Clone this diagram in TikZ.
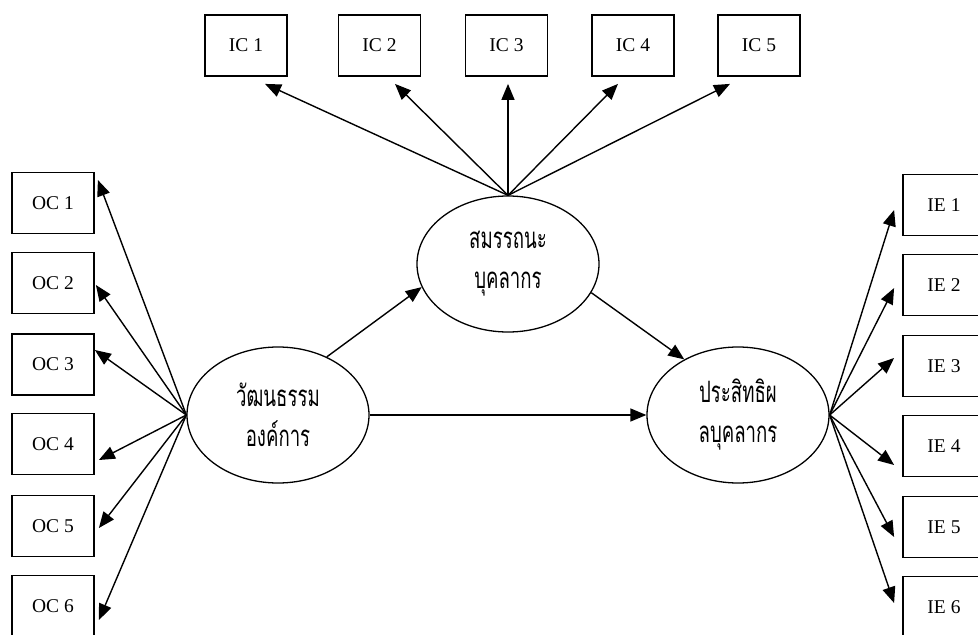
\documentclass[tikz,border=0pt]{standalone}
\usepackage{fontspec}
\usepackage{graphicx}
\setmainfont{Liberation Serif}
\newfontfamily\thaifont[Script=Thai]{Loma}
\newcommand{\tallthai}[1]{\scalebox{0.98}[1.55]{#1}}
\usetikzlibrary{arrows.meta,calc,shapes.geometric}
\begin{document}
\begin{tikzpicture}[x=1pt,y=-1pt,
  indicator/.style={draw,line width=1.8pt,minimum width=82pt,minimum height=61pt,
    inner sep=0pt,font=\fontsize{19.5}{19.5}\selectfont},
  construct/.style={draw,ellipse,line width=1.3pt,inner sep=0pt,
    minimum width=182pt,minimum height=136pt,
    align=center,font=\thaifont\fontsize{19}{40}\selectfont},
  arrowline/.style={line width=1.4pt,-{Triangle[length=16pt,width=13pt]}}]
\useasboundingbox (0,0) rectangle (978,635);

% latent constructs
\node[construct] (oc) at (278,415) {\tallthai{วัฒนธรรม}\\\tallthai{องค์การ}};
\node[construct] (ic) at (508,264) {\tallthai{สมรรถนะ}\\\tallthai{บุคลากร}};
\node[construct] (ie) at (738,415) {\tallthai{ประสิทธิผ}\\\tallthai{ลบุคลากร}};

% indicators of the left construct
\foreach \i/\y in {1/203,2/283,3/364.5,4/444,5/526,6/606}
  \node[indicator] (oc\i) at (53,\y) {OC \i};
% indicators of the top construct
\foreach \i/\x in {1/246,2/379.5,3/506.5,4/633,5/759}
  \node[indicator] (ic\i) at (\x,45.5) {IC \i};
% indicators of the right construct
\foreach \i/\y in {1/205,2/285,3/366,4/446,5/527,6/607}
  \node[indicator] (ie\i) at (944,\y) {IE \i};

% loadings
\foreach \i/\dx/\dy in {1/3/-23,2/1/2,3/0/-14.5,4/4/16,5/4/2,6/4/14}
  \draw[arrowline] (oc.west) -- ($(oc\i.east)+(\dx,\dy)$);
\foreach \i/\dx in {1/19,2/15.5,3/1.5,4/-15,5/-29}
  \draw[arrowline] (ic.north) -- ($(ic\i.south)+(\dx,7)$);
\foreach \i/\dy in {1/5,2/3,3/-8,4/19,5/10,6/-4}
  \draw[arrowline] (ie.east) -- ($(ie\i.west)+(-8,\dy)$);

% structural paths
\draw[arrowline] (oc.50) -- (ic.195);
\draw[arrowline] (ic.341) -- (ie.134);
\draw[arrowline] (oc.east) -- (ie.west);
\end{tikzpicture}
\end{document}
